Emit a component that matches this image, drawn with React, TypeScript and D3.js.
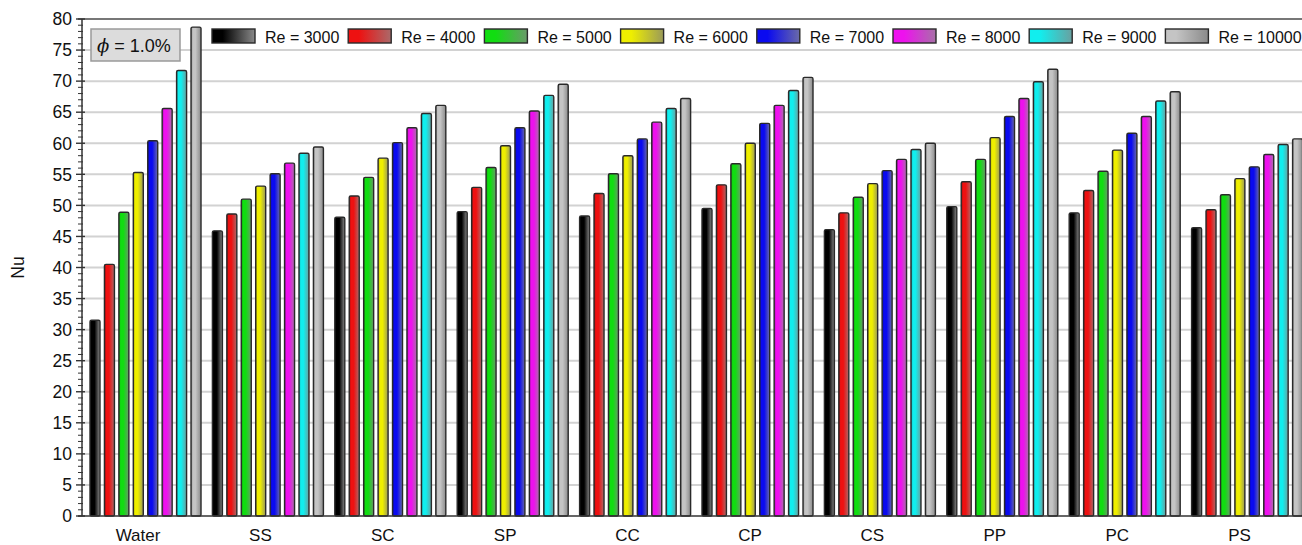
import React from "react";
import * as d3 from "d3";

const categories = ["Water", "SS", "SC", "SP", "CC", "CP", "CS", "PP", "PC", "PS"];
const reynolds = ["Re = 3000", "Re = 4000", "Re = 5000", "Re = 6000", "Re = 7000", "Re = 8000", "Re = 9000", "Re = 10000"];

// Nusselt number per Reynolds number, one array per Re series (ordered by category)
const re3000 = [31.5, 45.9, 48.1, 49.0, 48.3, 49.5, 46.1, 49.8, 48.8, 46.4];
const re4000 = [40.5, 48.6, 51.5, 52.9, 51.9, 53.3, 48.8, 53.8, 52.4, 49.3];
const re5000 = [48.9, 51.0, 54.5, 56.1, 55.1, 56.7, 51.3, 57.4, 55.5, 51.7];
const re6000 = [55.3, 53.1, 57.6, 59.6, 58.0, 60.0, 53.5, 60.9, 58.9, 54.3];
const re7000 = [60.4, 55.1, 60.1, 62.5, 60.7, 63.2, 55.6, 64.3, 61.6, 56.2];
const re8000 = [65.6, 56.8, 62.5, 65.2, 63.4, 66.1, 57.4, 67.2, 64.3, 58.2];
const re9000 = [71.7, 58.4, 64.8, 67.7, 65.6, 68.5, 59.0, 69.9, 66.8, 59.8];
const re10000 = [78.7, 59.4, 66.1, 69.5, 67.2, 70.6, 60.0, 71.9, 68.3, 60.7];
const series = [re3000, re4000, re5000, re6000, re7000, re8000, re9000, re10000];

const yTicks = d3.range(0, 81, 5);
const yMinorTicks = d3.range(0, 81, 1);

// fill stops for each series: left colour -> right colour
const startColors = ["#000000", "#ee1111", "#11dd11", "#eeee00", "#0a0af0", "#ee11ee", "#11eeee", "#c4c4c4"];
const endColors = ["#8a8a8a", "#aa6a6a", "#6a9a6a", "#9a9a5a", "#6a6aa8", "#a870a8", "#6aa0a0", "#8a8a8a"];

const W = 1302;
const H = 545;
const top = 19;
const bottom = 516;
const left = 82;

export default function App() {
  const y = d3.scaleLinear().domain([0, 80]).range([bottom, top]);
  const x0 = d3
    .scaleBand<string>()
    .domain(categories)
    .range([84.3, 1308.3])
    .paddingInner(0.093)
    .paddingOuter(0.0466);
  const x1 = d3
    .scaleBand<number>()
    .domain(d3.range(series.length))
    .range([0, x0.bandwidth()])
    .paddingInner(0.307)
    .paddingOuter(0);

  const font = "Arial, 'Liberation Sans', Helvetica, sans-serif";

  const legendX = (i: number) => 212 + i * 136.2;

  return (
    <svg
      width={W}
      height={H}
      style={{ position: "absolute", left: 0, top: 0, background: "#fff" }}
      fontFamily={font}
    >
      <defs>
        {startColors.map((c, i) => (
          <linearGradient key={i} id={`bar-grad-${i}`} x1="0" x2="1" y1="0" y2="0">
            <stop offset="0" stopColor={d3.interpolateRgb(c, "#000")(0.35)} />
            <stop offset="0.18" stopColor={c} />
            <stop offset="0.45" stopColor={c} />
            <stop offset="1" stopColor={endColors[i]} />
          </linearGradient>
        ))}
        {startColors.map((c, i) => (
          <linearGradient key={i} id={`leg-grad-${i}`} x1="0" x2="1" y1="0" y2="0">
            <stop offset="0" stopColor={c} />
            <stop offset="0.25" stopColor={c} />
            <stop offset="1" stopColor={endColors[i]} />
          </linearGradient>
        ))}
        <clipPath id="plot-clip">
          <rect x={left} y={0} width={W - left} height={bottom + 1} />
        </clipPath>
      </defs>

      {/* horizontal grid */}
      {yTicks
        .filter((t) => t > 0 && t < 80)
        .map((t) => (
          <line key={t} x1={left} x2={W} y1={y(t)} y2={y(t)} stroke="#d2d2d2" strokeWidth={2} />
        ))}

      {/* bars */}
      <g clipPath="url(#plot-clip)">
        {categories.map((cat, ci) => (
          <g key={cat} transform={`translate(${x0(cat)},0)`}>
            {series.map((vals, si) => (
              <rect
                key={si}
                x={x1(si)}
                y={y(vals[ci])}
                width={x1.bandwidth()}
                height={y(0) - y(vals[ci])}
                rx={1.5}
                fill={`url(#bar-grad-${si})`}
                stroke="#2a2a2a"
                strokeWidth={1.4}
              />
            ))}
          </g>
        ))}
      </g>

      {/* frame: top border and axes */}
      <line x1={left - 4} x2={W} y1={top} y2={top} stroke="#4a4a4a" strokeWidth={1.5} />
      <line x1={left - 4} x2={W} y1={bottom} y2={bottom} stroke="#333" strokeWidth={1.5} />
      <line x1={left} x2={left} y1={top} y2={bottom} stroke="#333" strokeWidth={1.5} />

      {/* y ticks */}
      {yMinorTicks.map((t) => (
        <line
          key={t}
          x1={t % 5 === 0 ? left - 6 : left - 4}
          x2={left + (t % 5 === 0 ? 3 : 1)}
          y1={y(t)}
          y2={y(t)}
          stroke="#333"
          strokeWidth={t % 5 === 0 ? 1.4 : 1}
        />
      ))}
      {yTicks.map((t) => (
        <text key={t} x={72} y={y(t)} dy="0.36em" textAnchor="end" fontSize={17.5} fill="#111">
          {t}
        </text>
      ))}
      <text
        transform={`translate(18,${(top + bottom) / 2}) rotate(-90)`}
        textAnchor="middle"
        fontSize={17.5}
        dy="0.35em"
        fill="#111"
      >
        Nu
      </text>

      {/* category labels */}
      {categories.map((cat) => (
        <text
          key={cat}
          x={(x0(cat) ?? 0) + x0.bandwidth() / 2 - 7.5}
          y={541}
          textAnchor="middle"
          fontSize={17}
          fill="#111"
        >
          {cat}
        </text>
      ))}

      {/* volume fraction box */}
      <rect x={91} y={29} width={89} height={32} fill="#dcdcdc" stroke="#9a9a9a" strokeWidth={1.5} />
      <text x={97} y={52} fontSize={18} fill="#111">
        <tspan fontStyle="italic" fontFamily="'DejaVu Serif', serif">ϕ</tspan>
        <tspan> = 1.0%</tspan>
      </text>

      {/* legend */}
      {reynolds.map((label, i) => (
        <g key={label} transform={`translate(${legendX(i)},0)`}>
          <rect x={0} y={29} width={43} height={14} fill={`url(#leg-grad-${i})`} stroke="#2a2a2a" strokeWidth={1.4} />
          <text x={53} y={43} fontSize={16} fill="#111">
            {label}
          </text>
        </g>
      ))}
    </svg>
  );
}
